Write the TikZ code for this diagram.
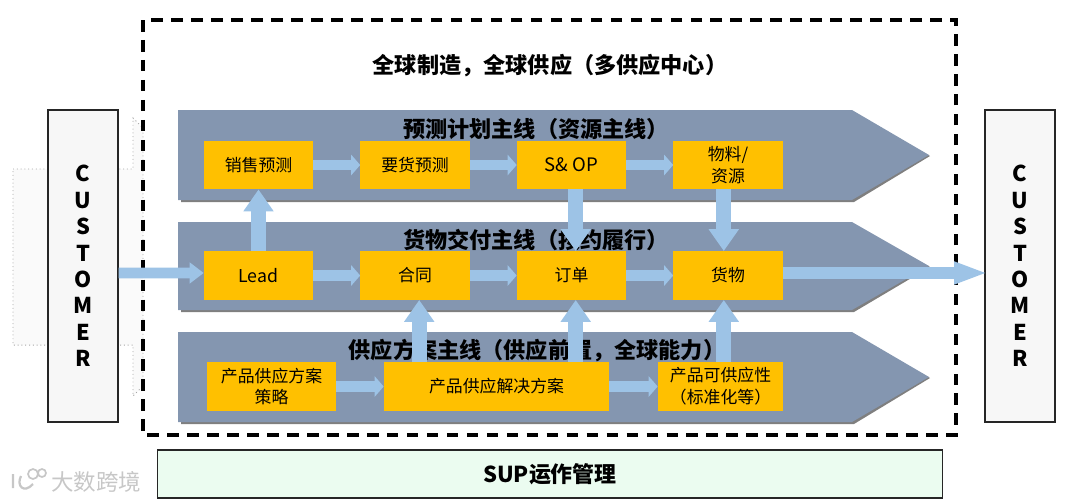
\documentclass[tikz,border=0pt]{standalone}
\usepackage{fontspec}
\setmainfont{Noto Sans CJK SC}
\usetikzlibrary{arrows.meta}

\definecolor{laneblue}{HTML}{8496B0}
\definecolor{laneshadow}{HTML}{7F7F7F}
\definecolor{boxorange}{HTML}{FFC000}
\definecolor{flowblue}{HTML}{9DC3E6}
\definecolor{custgray}{HTML}{F7F7F7}
\definecolor{supgreen}{HTML}{EBFCF0}

\tikzset{
  stagebox/.style={fill=boxorange,inner sep=0pt,align=center,minimum width=2.725cm,minimum height=1.21cm,font=\fontsize{12}{15.5}\selectfont},
  lanetitle/.style={inner sep=0pt,font=\fontsize{15.75}{18}\selectfont\bfseries},
  custbox/.style={draw=black!85,line width=1pt,fill=custgray,inner sep=0pt,minimum width=1.75cm,minimum height=7.8cm,align=center,font=\fontsize{15.5}{18.8}\selectfont\bfseries},
  flowh/.style={draw=flowblue,line width=7.5pt,-{Triangle[length=6.5pt,width=14.5pt]}},
  flowin/.style={draw=flowblue,line width=7.5pt,-{Triangle[length=10pt,width=14.5pt]}},
  flowv/.style={draw=flowblue,line width=10.5pt,-{Triangle[length=15.5pt,width=20.5pt]}},
  flowout/.style={draw=flowblue,line width=8pt,-{Triangle[length=24pt,width=14.5pt]}}
}

\begin{document}
\begin{tikzpicture}[x=0.025cm,y=-0.025cm]
\useasboundingbox (0,0) rectangle (1080,502);

% Dotted arrow behind the customer
\draw[draw=black!35,dotted,fill=black!2,line width=0.7pt]
  (13,169) -- (133,169) -- (133,118) -- (143,128) -- (143,386) -- (133,396) -- (133,345) -- (13,345) -- cycle;

% Lanes
\foreach \y/\h in {110/90,222/88,332/90}{
  \fill[laneshadow] (181,\y+3) -- (854,\y+3) -- (930,\y+\h/2+1) -- (854,\y+\h+2) -- (181,\y+\h+2) -- cycle;
  \fill[laneblue] (178,\y) -- (852,\y) -- (929,\y+\h/2) -- (852,\y+\h) -- (178,\y+\h) -- cycle;
}

% Outer frame
\draw[line width=2.6pt,dash pattern=on 8.2pt off 6pt] (143,20) rectangle (956,435);
\node[lanetitle] (globaltitle) at (550,66) {全球制造，全球供应（多供应中心）};

% Lane titles
\node[lanetitle] (plantitle) at (536,129) {预测计划主线（资源主线）};
\node[lanetitle] (delivtitle) at (536,240) {货物交付主线（按约履行）};
\node[lanetitle] (supplytitle) at (537,351) {供应方案主线（供应前置，全球能力）};

% Customers
\node[custbox] (custleft) at (83,266) {C\\U\\S\\T\\O\\M\\E\\R};
\node[custbox] (custright) at (1020,266) {C\\U\\S\\T\\O\\M\\E\\R};

% Plan row
\node[stagebox] (salesfc) at (258.5,165) {销售预测};
\node[stagebox] (demandfc) at (415,165) {要货预测};
\node[stagebox,font=\fontsize{13.2}{16}\selectfont] (sop) at (571.5,165) {S\& OP};
\node[stagebox] (material) at (728,165) {物料/\\资源};

% Delivery row
\node[stagebox,font=\fontsize{12.6}{16}\selectfont] (lead) at (258.5,275.5) {Lead};
\node[stagebox] (contract) at (415,275.5) {合同};
\node[stagebox] (order) at (571.5,275.5) {订单};
\node[stagebox] (goods) at (728,275.5) {货物};

% Supply row
\node[stagebox,minimum width=3.225cm] (strategy) at (271.5,386.5) {产品供应方案\\策略};
\node[stagebox,minimum width=5.625cm] (solution) at (496.5,386.5) {产品供应解决方案};
\node[stagebox,minimum width=3.125cm] (avail) at (720.5,386.5) {产品可供应性\\（标准化等）};

% Row flows
\foreach \a/\b in {salesfc/demandfc,demandfc/sop,sop/material,lead/contract,contract/order,order/goods,strategy/solution,solution/avail}
  \draw[flowh] (\a) -- (\b);

% Flows between rows
\draw[flowv] (lead) -- (salesfc);
\draw[flowv] ([xshift=3pt]sop.south) -- ([xshift=3pt]order.north);
\draw[flowv] ([xshift=-3pt]material.south) -- ([xshift=-3pt]goods.north);
\draw[flowv] ([xshift=3pt]solution.north -| contract) -- ([xshift=3pt]contract.south);
\draw[flowv] ([xshift=3pt]solution.north -| order) -- ([xshift=3pt]order.south);
\draw[flowv] ([xshift=-3pt]avail.north -| goods) -- ([xshift=-3pt]goods.south);

% In and out
\draw[flowin] (custleft.east |- lead.west) ++(0,-2.5) -- ([yshift=1.8pt]lead.west);
\draw[flowout] ([yshift=1.8pt]goods.east) -- ([yshift=1.8pt,xshift=2.5pt]goods.east -| custright.west);

% SUP
\node[draw=black!85,line width=0.8pt,fill=supgreen,inner sep=0pt,minimum width=19.6cm,minimum height=1.2cm,font=\fontsize{15.6}{18}\selectfont\bfseries] (sup) at (550,474) {SUP运作管理};

% Watermark
\node[inner sep=0pt,text=black!22,font=\fontsize{16}{18}\selectfont] (mark) at (96,482) {大数跨境};
\draw[black!22,line width=1.6pt] (13,474) -- (13,488) (21,476) .. controls (16,486) and (24,494) .. (33,484);
\draw[black!22,line width=1.2pt] (33,474) circle[radius=5] (42,473) circle[radius=4];
\end{tikzpicture}
\end{document}
